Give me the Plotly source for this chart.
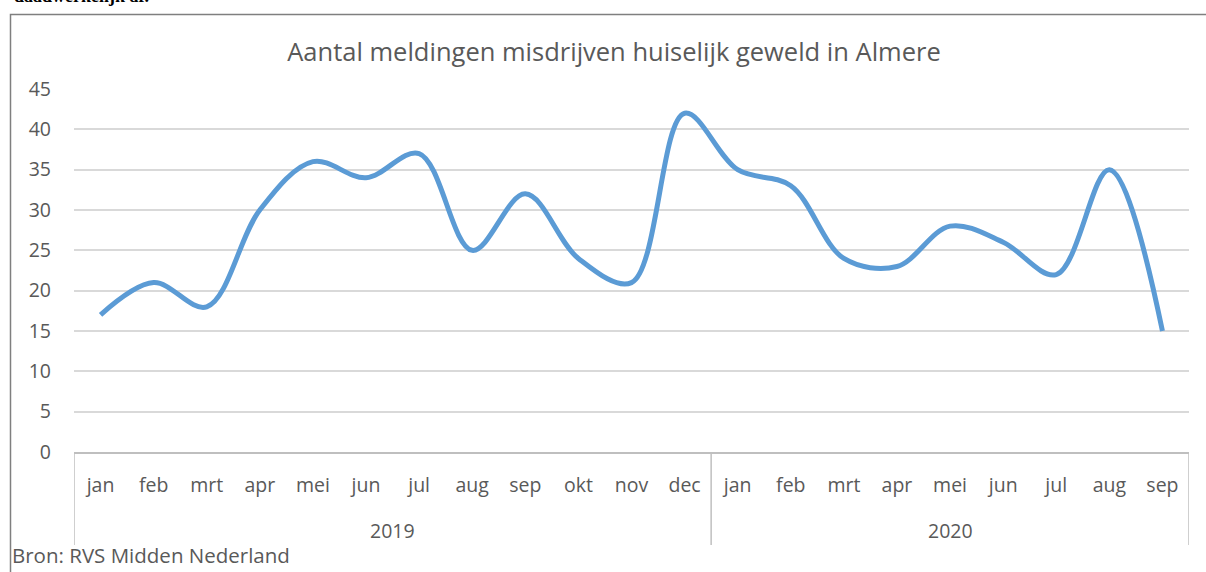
import plotly.graph_objects as go

years = ["2019"] * 12 + ["2020"] * 9
months = ["jan", "feb", "mrt", "apr", "mei", "jun", "jul", "aug", "sep", "okt", "nov", "dec",
          "jan", "feb", "mrt", "apr", "mei", "jun", "jul", "aug", "sep"]
meldingen = [17, 21, 18, 30, 36, 34, 37, 25, 32, 24, 21, 42,
             35, 33, 24, 23, 28, 26, 22, 35, 15]
y_ticks = list(range(0, 50, 5))

title_text = "Aantal meldingen misdrijven huiselijk geweld in Almere"
source_text = "Bron: RVS Midden Nederland"

W, H = 1206, 572
L, R, T, B = 74, 1189, 89, 452
pw, ph = R - L, B - T

def px(x):
    return (x - L) / pw

def py(y):
    return (B - y) / ph

FONT = "'Open Sans', sans-serif"
GREY = "#595959"
TICK = 19.5

idx = list(range(len(months)))
year_names = sorted(set(years))
year_groups = {y: [i for i, yy in zip(idx, years) if yy == y] for y in year_names}

fig = go.Figure()
fig.add_trace(go.Scatter(
    x=idx, y=meldingen, mode="lines",
    line=dict(color="#5b9bd5", width=5, shape="spline", smoothing=1.0),
    customdata=[f"{m} {y}" for m, y in zip(months, years)],
    hovertemplate="%{customdata}: %{y}<extra></extra>", showlegend=False,
))

annotations = []
shapes = []
bounds = [-0.5]
for yname in year_names:
    g = year_groups[yname]
    annotations.append(dict(text=yname, xref="x", yref="paper",
                            x=(g[0] + g[-1]) / 2, y=py(530), xanchor="center",
                            yanchor="middle", showarrow=False,
                            font=dict(family=FONT, size=TICK, color=GREY)))
    bounds.append(g[-1] + 0.5)
for b in bounds:
    shapes.append(dict(type="line", xref="x", yref="paper", x0=b, x1=b,
                       y0=0, y1=py(545), line=dict(color="#bfbfbf", width=1.5)))

annotations += [
    dict(text=source_text, xref="paper", yref="paper", x=px(10), y=py(571),
         xanchor="left", yanchor="bottom", showarrow=False,
         font=dict(family=FONT, size=20.5, color=GREY)),
    dict(text="<b>daadwerkelijk af.</b>", xref="paper", yref="paper",
         x=px(12), y=py(8), xanchor="left", yanchor="bottom", showarrow=False,
         font=dict(family="'Liberation Serif', serif", size=18, color="#000000")),
]
shapes.append(dict(type="path", xref="paper", yref="paper",
                   path=f"M {px(10.5)},{py(600)} L {px(10.5)},{py(14.5)} L {px(1215)},{py(14.5)}",
                   line=dict(color="#7f7f7f", width=1.5)))

fig.update_layout(
    width=W, height=H,
    margin=dict(l=L, r=W - R, t=T, b=H - B, autoexpand=False),
    paper_bgcolor="white", plot_bgcolor="white",
    font=dict(family=FONT, color=GREY, size=TICK),
    title=dict(text=title_text, x=px(614), xanchor="center", xref="paper",
               y=1 - 52 / H, yanchor="middle", yref="container",
               font=dict(family=FONT, size=25.5, color=GREY)),
    xaxis=dict(range=[-0.5, len(months) - 0.5], tickvals=idx, ticktext=months,
               showgrid=False, showline=True, zeroline=False,
               linecolor="#bfbfbf", linewidth=1.5, ticks="", ticklabelstandoff=15,
               tickfont=dict(family=FONT, size=TICK, color=GREY), fixedrange=True),
    yaxis=dict(range=[0, 45], tickvals=y_ticks, showgrid=True,
               gridcolor="#d9d9d9", gridwidth=1.5, zeroline=False,
               showline=False, ticks="", ticklabelstandoff=22,
               tickfont=dict(family=FONT, size=TICK, color=GREY), fixedrange=True),
    annotations=annotations,
    shapes=shapes,
)

fig.write_html("out.html", config={"displayModeBar": False},
               post_script="document.body.style.margin='0';")
